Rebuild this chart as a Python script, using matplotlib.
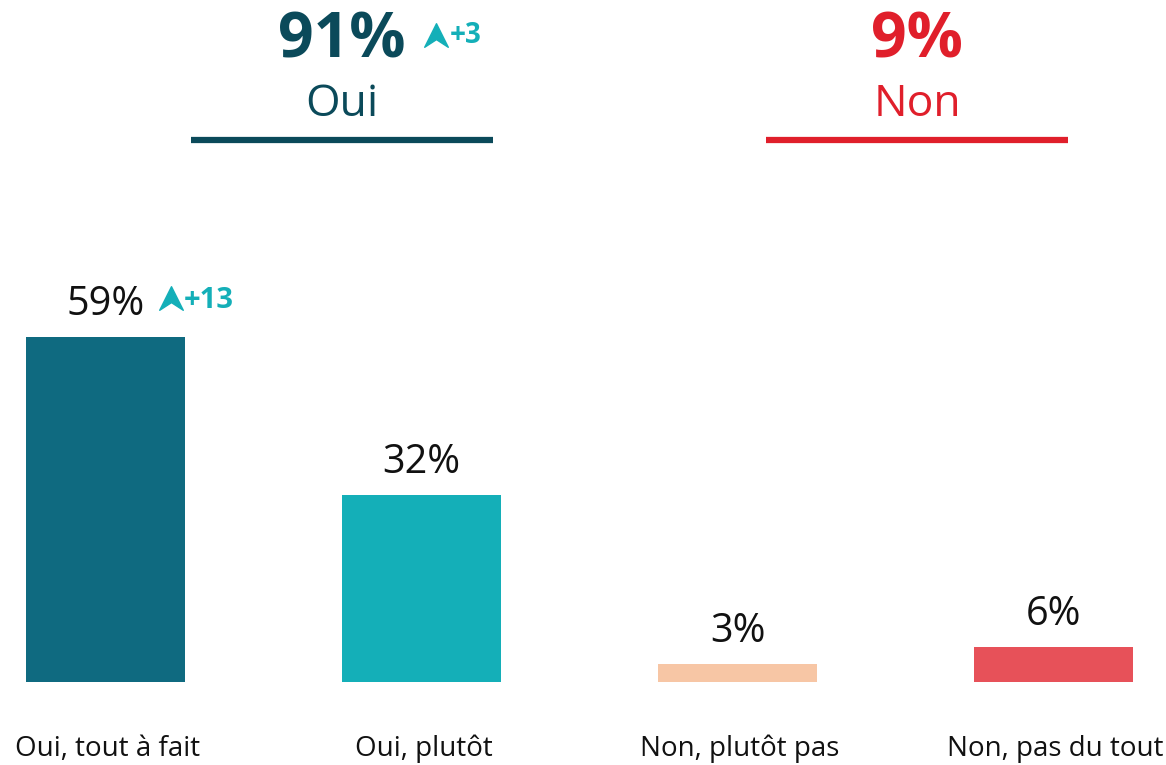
import matplotlib
matplotlib.use("Agg")
import matplotlib.pyplot as plt
from matplotlib.path import Path
from matplotlib.transforms import offset_copy

# ---- data ----
categories = ["Oui, tout à fait", "Oui, plutôt", "Non, plutôt pas", "Non, pas du tout"]
values = [59, 32, 3, 6]
bar_colors = ["#0f6a80", "#14afb8", "#f7c6a5", "#e75159"]
bar_deltas = ["+13", None, None, None]

group_names = ["Oui", "Non"]
group_totals = [91, 9]
group_deltas = ["+3", None]
group_colors = ["#0b4a5a", "#e01f2b"]
delta_color = "#14afb8"

plt.rcParams['font.family'] = ['Open Sans', 'DejaVu Sans']

W, H = 1166, 765
fig = plt.figure(figsize=(W / 100, H / 100), dpi=100)
ax = fig.add_axes([0, 0, 1, 1])

# pixel layout
x0_px, step_px = 105.5, 316.0
base_px = 682.0
ppu = 5.85  # pixels per percent
ax.set_xlim(-x0_px / step_px, (W - x0_px) / step_px)
ax.set_ylim(-(H - base_px) / ppu, base_px / ppu)
ax.axis("off")

xs = list(range(len(categories)))
ax.bar(xs, values, width=159 / step_px, color=bar_colors)

arrow = Path([(0, 1), (1, -1), (0, -0.35), (-1, -1), (0, 1)],
             [Path.MOVETO, Path.LINETO, Path.LINETO, Path.LINETO, Path.CLOSEPOLY])

for x, v, d in zip(xs, values, bar_deltas):
    ax.annotate(f"{v}%", (x, v), xytext=(0, 22), textcoords="offset pixels",
                ha="center", va="baseline", fontsize=28.5, color="#111111")
    if d:
        t_m = offset_copy(ax.transData, fig=fig, x=65.5, y=39, units="dots")
        ax.plot([x], [v], marker=arrow, markersize=17, color=delta_color,
                transform=t_m, clip_on=False, linestyle="none")
        ax.annotate(d, (x, v), xytext=(78, 29), textcoords="offset pixels",
                    ha="left", va="baseline", fontsize=21, fontweight="bold",
                    color=delta_color)

# category labels
for x, c in zip(xs, categories):
    ax.annotate(c, (x, 0), xytext=(2, -(756 - base_px)), textcoords="offset pixels",
                ha="center", va="baseline", fontsize=20, color="#111111")

# group headers
group_spans = [(191, 493), (766, 1068)]
def fx(px):
    return px / W
def fy(py):
    return 1 - py / H

for (l, r), name, tot, d, col in zip(group_spans, group_names, group_totals,
                                      group_deltas, group_colors):
    cx = (l + r) / 2
    fig.add_artist(plt.Line2D([fx(l), fx(r)], [fy(140), fy(140)], color=col,
                              linewidth=4.5, transform=fig.transFigure,
                              solid_capstyle="butt"))
    t = fig.text(fx(cx), fy(57), f"{tot}%", ha="center", va="baseline",
                 fontsize=45, fontweight="bold", color=col)
    fig.text(fx(cx), fy(116), name, ha="center", va="baseline",
             fontsize=32, color=col)
    if d:
        fig.canvas.draw()
        bb = t.get_window_extent()
        right = bb.x1
        ax.plot([right + 30], [H - 35], marker=arrow, markersize=17,
                color=delta_color, transform=None, clip_on=False,
                linestyle="none")
        fig.text((right + 44) / W, fy(43), d, ha="left", va="baseline",
                 fontsize=20, fontweight="bold", color=delta_color)

fig.savefig("out.png", dpi=100)
